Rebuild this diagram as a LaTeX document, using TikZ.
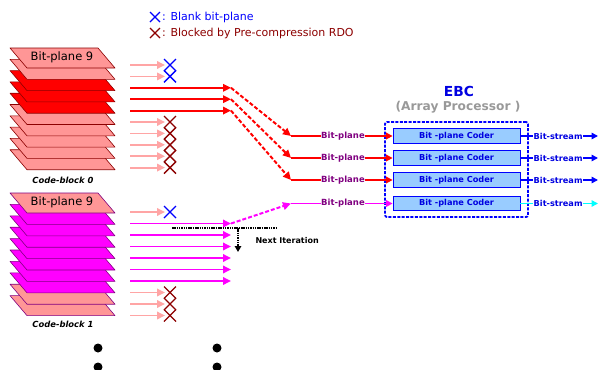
\documentclass[tikz,border=0pt]{standalone}
\usepackage{fontspec}
\setmainfont{DejaVu Sans}
\usetikzlibrary{arrows.meta}
\definecolor{planepink}{RGB}{255,150,150}
\definecolor{arrowpink}{RGB}{255,165,165}
\definecolor{darkred}{RGB}{140,0,0}
\definecolor{plum}{RGB}{128,0,128}
\definecolor{fuchsia}{RGB}{255,0,255}
\definecolor{aqua}{RGB}{0,255,255}
\definecolor{coderfill}{RGB}{153,204,255}
\definecolor{ebcblue}{RGB}{0,0,225}
\begin{document}
\begin{tikzpicture}[x=1pt,y=-1pt,
  tip/.style={-{Triangle[length=8pt,width=7.5pt]}},smalltip/.style={-{Triangle[length=6.5pt,width=6.5pt]}},
  feed/.style={tip,line width=1.8pt},hop/.style={tip,line width=2pt,dash pattern=on 4pt off 2pt},
  plane/.style={line width=.6pt,line join=round},
  blank/.style={blue,line width=1.4pt},blocked/.style={darkred,line width=1.4pt},
  coder/.style={draw=blue,line width=.8pt,fill=coderfill,minimum width=127pt,minimum height=14.5pt,inner sep=0pt,font=\fontsize{8.2}{9}\selectfont\bfseries,text=ebcblue},
  bplabel/.style={font=\fontsize{8.5}{10}\selectfont\bfseries,text=plum,inner sep=.5pt},
  bslabel/.style={font=\fontsize{8.2}{10}\selectfont\bfseries,text=ebcblue,inner sep=.5pt,anchor=west}]
\useasboundingbox (0,0) rectangle (598,370);
\draw[blank] (150,12)--(160,22) (150,22)--(160,12);\node[anchor=west,inner sep=1pt,text=blue,font=\fontsize{11}{12}\selectfont] (lgblank) at (161,17) {: Blank bit-plane};
\draw[blocked] (150,28)--(160,38) (150,38)--(160,28);\node[anchor=west,inner sep=1pt,text=darkred,font=\fontsize{11}{12}\selectfont] (lgblocked) at (161,33) {: Blocked by Pre-compression RDO};
\begin{scope}
\foreach \p/\c in {9/planepink,8/planepink,7/planepink,6/planepink,5/planepink,4/red,3/red,2/red,1/planepink,0/planepink}
  \filldraw[plane,fill=\c,draw=darkred] (10,48+11.3*\p) -- ++(88,0) -- ++(17,20) -- ++(-88,0) -- cycle;
\node[font=\fontsize{11.5}{12}\selectfont] (top0) at (62,57.5) {Bit-plane 9};
\node[font=\fontsize{8.4}{10}\selectfont\bfseries\itshape] (cb0) at (63,180) {Code-block 0};
\foreach \p in {0,...,9}{\coordinate (a\p) at (130,65+11.4*\p);\coordinate (e\p) at (165,65+11.4*\p);\coordinate (m\p) at (231,65+11.4*\p);}
\foreach \p in {0,1}{\draw[feed,arrowpink] (a\p)--(e\p);\draw[blank] ([shift={(-1,-6)}]e\p)--([shift={(11,6)}]e\p) ([shift={(-1,6)}]e\p)--([shift={(11,-6)}]e\p);}
\foreach \p in {5,...,9}{\draw[feed,arrowpink] (a\p)--(e\p);\draw[blocked] ([shift={(-1,-6)}]e\p)--([shift={(11,6)}]e\p) ([shift={(-1,6)}]e\p)--([shift={(11,-6)}]e\p);}
\foreach \p in {2,3,4} \draw[feed,red] (a\p)--(m\p);
\end{scope}
\begin{scope}
\foreach \p/\c in {9/planepink,8/planepink,7/fuchsia,6/fuchsia,5/fuchsia,4/fuchsia,3/fuchsia,2/fuchsia,1/fuchsia,0/planepink}
  \filldraw[plane,fill=\c,draw=plum] (10,193+11.4*\p) -- ++(88,0) -- ++(17,20) -- ++(-88,0) -- cycle;
\node[font=\fontsize{11.5}{12}\selectfont] (top1) at (62,202.5) {Bit-plane 9};
\node[font=\fontsize{8.4}{10}\selectfont\bfseries\itshape] (cb1) at (63,324) {Code-block 1};
\foreach \p in {0,...,9}{\coordinate (b\p) at (130,212+11.5*\p);\coordinate (f\p) at (165,212+11.5*\p);\coordinate (n\p) at (231,212+11.5*\p);}
\draw[feed,arrowpink] (b0)--(f0);\draw[blank] ([shift={(-1,-6)}]f0)--([shift={(11,6)}]f0) ([shift={(-1,6)}]f0)--([shift={(11,-6)}]f0);
\foreach \p in {7,8,9}{\draw[feed,arrowpink] (b\p)--(f\p);\draw[blocked] ([shift={(-1,-6)}]f\p)--([shift={(11,6)}]f\p) ([shift={(-1,6)}]f\p)--([shift={(11,-6)}]f\p);}
\foreach \p in {1,...,6} \draw[feed,fuchsia] (b\p)--(n\p);
\coordinate (it0) at (172,228);\coordinate (it1) at (277,228);\coordinate (it2) at (238,228);\coordinate (it3) at (238,252);
\draw[line width=1.6pt,dash pattern=on 1.5pt off .8pt] (it0)--(it1);
\draw[line width=1.4pt,dash pattern=on 1.5pt off .8pt,-{Triangle[length=6pt,width=6.5pt]}] (it2)--(it3);
\node[anchor=west,font=\fontsize{8}{10}\selectfont\bfseries] (nextit) at (252,241) {Next Iteration};
\end{scope}
\node[draw=blue,line width=1.8pt,dash pattern=on 3pt off 1.4pt,rounded corners=2pt,minimum width=143pt,minimum height=95pt] (ebc) at (456.5,169.5) {};
\node[font=\fontsize{13.8}{15}\selectfont\bfseries,text=ebcblue] (ebcname) at (459,91) {EBC};
\node[font=\fontsize{12.2}{14}\selectfont\bfseries,text=black!40] (ebcsub) at (458,107) {(Array Processor )};
\foreach \i/\y in {1/136,2/158,3/180,4/203.5}{
  \node[coder] (c\i) at (456.5,\y) {Bit -plane Coder};
  \node[bplabel] (bp\i) at (343,\y) {Bit-plane};\coordinate (d\i) at (291,\y);
  \node[bslabel] (bs\i) at (533,\y) {Bit-stream};\coordinate (o\i) at (598,\y);}
\draw[hop,red] (m2)--(d1);\draw[hop,red] (m3)--(d2);\draw[hop,red] (m4)--(d3);\draw[hop,fuchsia] (n1)--(d4);
\foreach \i in {1,2,3}{\draw[red,line width=1.8pt] (d\i)--(bp\i);\draw[red,line width=1.8pt,smalltip] (bp\i)--(c\i);
  \draw[blue,line width=1.5pt] (c\i)--(bs\i);\draw[blue,line width=1.5pt,smalltip] (bs\i)--(o\i);}
\draw[fuchsia,line width=1.8pt] (d4)--(bp4);\draw[fuchsia,line width=1.8pt,smalltip] (bp4)--(c4);
\draw[aqua,line width=1.5pt] (c4)--(bs4);\draw[aqua,line width=1.5pt,smalltip] (bs4)--(o4);
\foreach \x in {98,217}{\fill (\x,348) circle (4.5pt);\fill (\x,367) circle (4.5pt);}
\end{tikzpicture}
\end{document}
